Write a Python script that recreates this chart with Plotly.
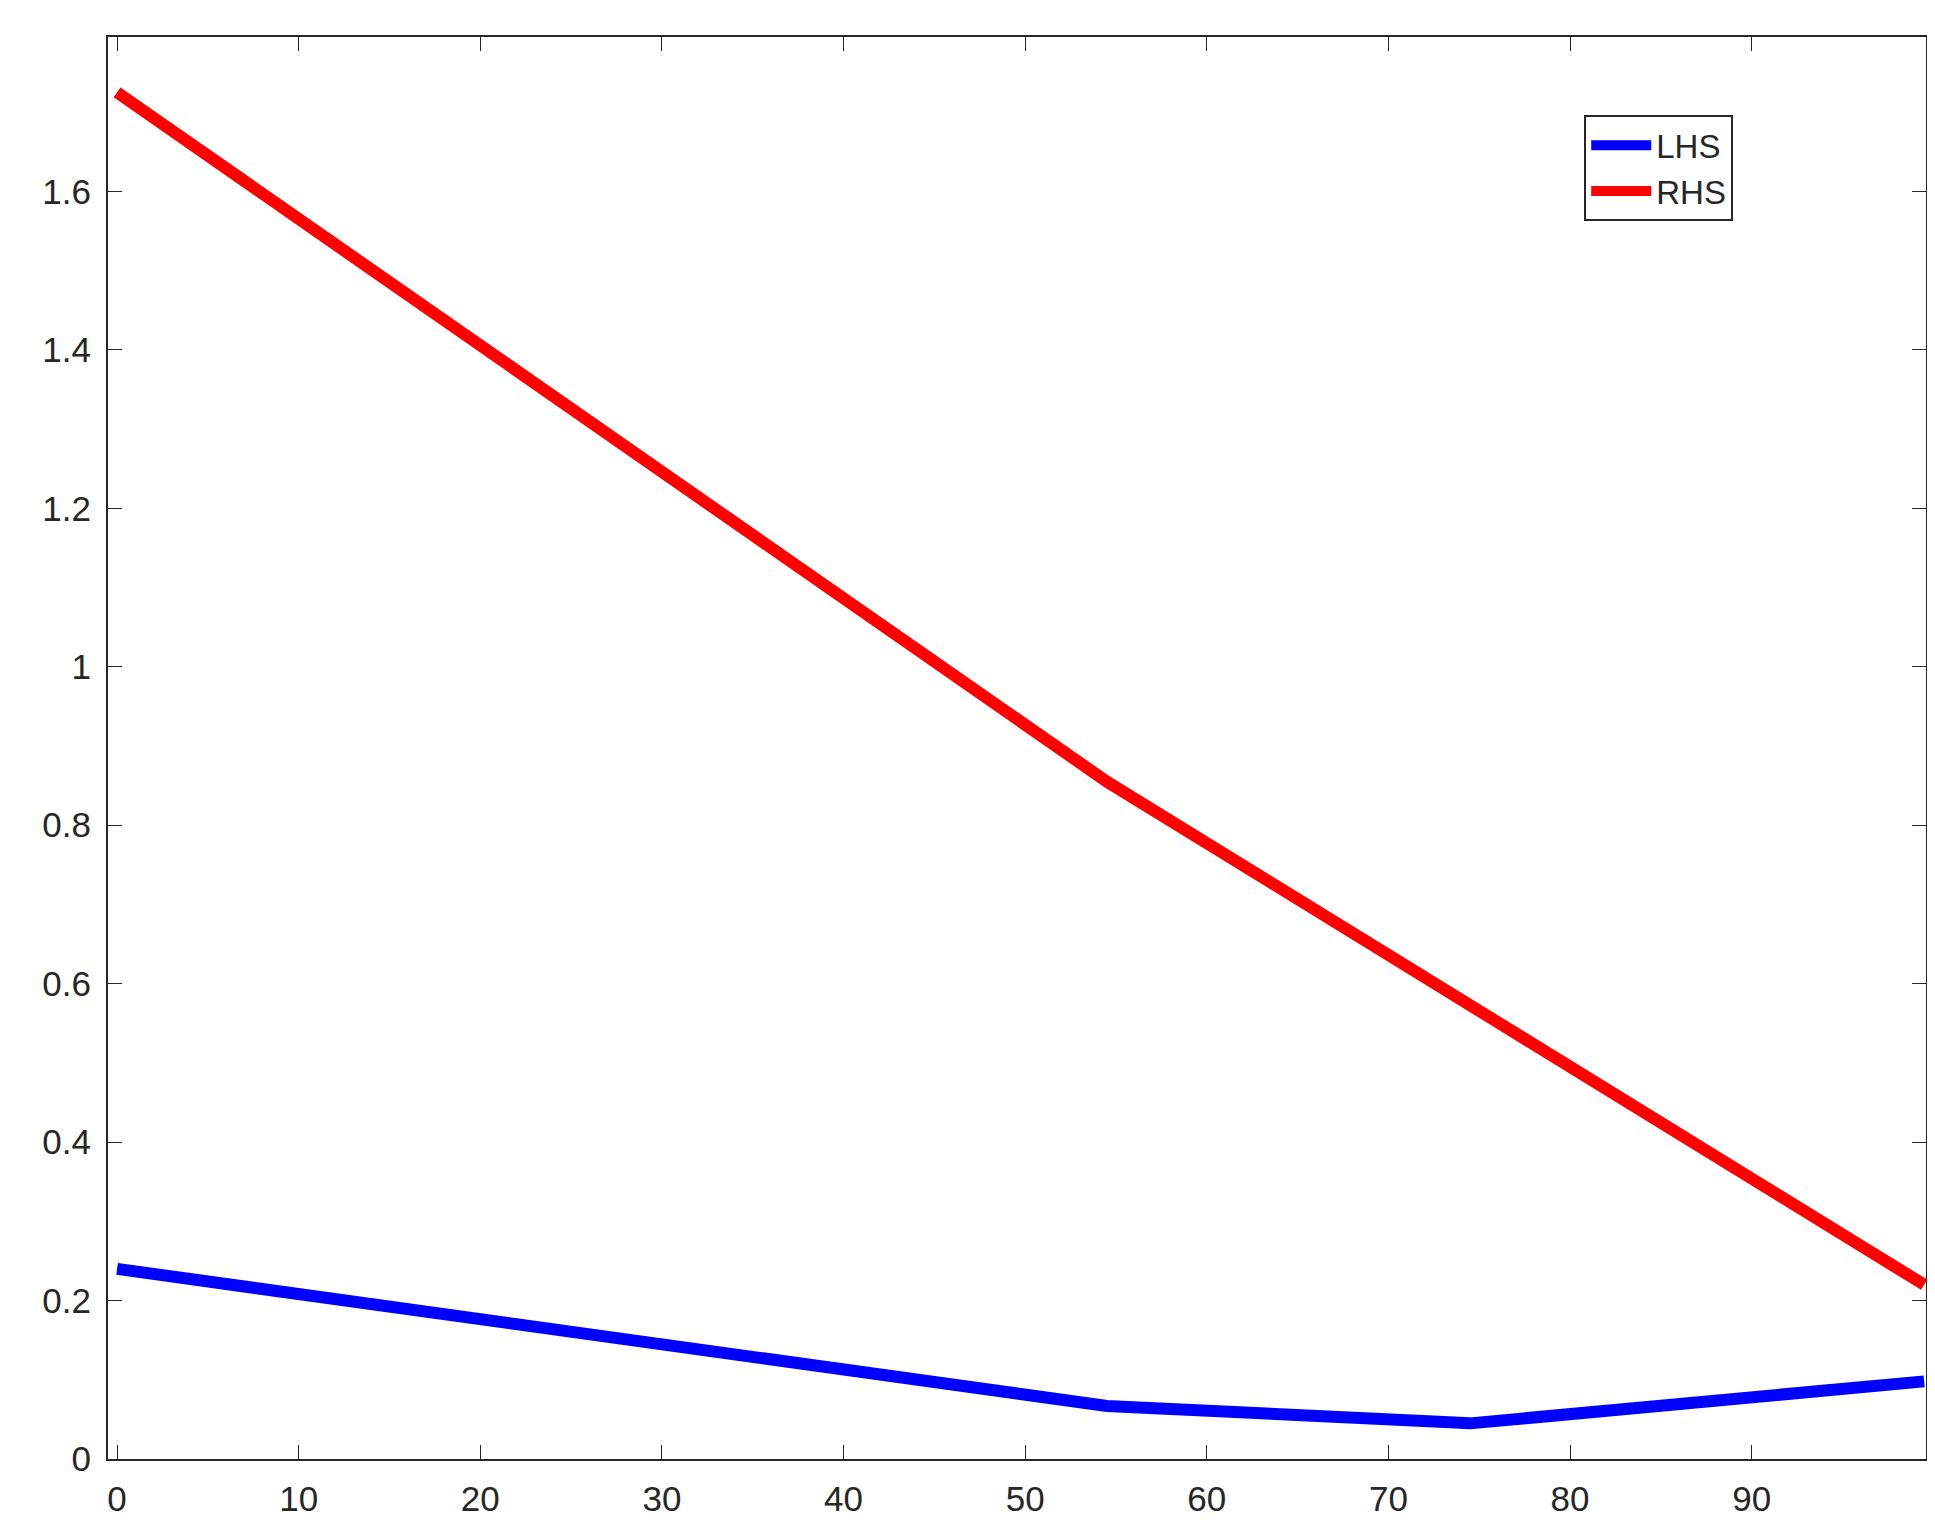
import plotly.graph_objects as go

# breakpoints
lhs_x = [0, 54.5, 74.5, 99.5]
lhs_y = [0.24, 0.067, 0.045, 0.098]
rhs_x = [0, 54.5, 99.5]
rhs_y = [1.725, 0.855, 0.22]

fig = go.Figure()
fig.add_trace(go.Scatter(x=lhs_x, y=lhs_y, mode="lines", name="LHS",
                         line=dict(color="#0000ff", width=12)))
fig.add_trace(go.Scatter(x=rhs_x, y=rhs_y, mode="lines", name="RHS",
                         line=dict(color="#ff0000", width=12)))

axis_style = dict(showline=True, mirror="ticks", linecolor="#262626", linewidth=2,
                  ticks="inside", ticklen=14, tickcolor="#262626",
                  showgrid=False, zeroline=False, ticklabelstandoff=8,
                  tickfont=dict(family="Liberation Sans, Arial", size=35, color="#262626"))

fig.update_xaxes(range=[-0.5, 99.6], tickvals=list(range(0, 100, 10)), **axis_style)
fig.update_yaxes(range=[0, 1.795], tickvals=[0, 0.2, 0.4, 0.6, 0.8, 1, 1.2, 1.4, 1.6],
                 ticktext=["0", "0.2", "0.4", "0.6", "0.8", "1", "1.2", "1.4", "1.6"],
                 **axis_style)

fig.update_layout(
    width=1935, height=1536,
    margin=dict(l=100, r=17, t=29, b=85),
    plot_bgcolor="white", paper_bgcolor="white",
    legend=dict(x=0.812, y=0.945, xanchor="left", yanchor="top",
                bordercolor="#262626", borderwidth=2, bgcolor="white",
                itemwidth=60,
                font=dict(family="Liberation Sans, Arial", size=33, color="#262626")),
)

fig.write_html("out.html")
